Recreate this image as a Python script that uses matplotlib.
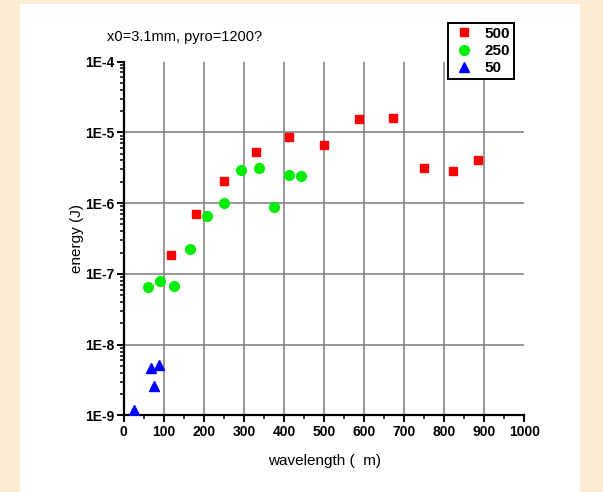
import math
import matplotlib
matplotlib.use("Agg")
import matplotlib.pyplot as plt
from matplotlib import rcParams, ticker
from matplotlib.patches import Rectangle

# Pulse energy vs wavelength for three settings
wl_500 = [118, 180, 251, 330, 413, 500, 587, 671, 750, 821, 884]
en_500 = [1.83e-7, 7.1e-7, 2.06e-6, 5.3e-6, 8.7e-6, 6.7e-6, 1.53e-5, 1.58e-5, 3.1e-6, 2.83e-6, 4.0e-6]

wl_250 = [60, 91, 126, 165, 207, 251, 294, 337, 375, 412, 442]
en_250 = [6.5e-8, 7.9e-8, 6.8e-8, 2.26e-7, 6.6e-7, 1.0e-6, 2.93e-6, 3.16e-6, 8.95e-7, 2.5e-6, 2.45e-6]

wl_50 = [26, 67, 76, 89]
en_50 = [1.2e-9, 4.7e-9, 2.6e-9, 5.2e-9]

x_ticks = [0, 100, 200, 300, 400, 500, 600, 700, 800, 900, 1000]
y_ticks = [1e-9, 1e-8, 1e-7, 1e-6, 1e-5, 1e-4]

rcParams["font.family"] = "Liberation Sans"
rcParams["font.size"] = 10

fig = plt.figure(figsize=(6.03, 4.92), dpi=100)
fig.patch.set_facecolor("#FAEDD4")
# white sheet behind the plot
fig.patches.append(Rectangle((20 / 603, 0), 560 / 603, 488 / 492,
                             transform=fig.transFigure, facecolor="white",
                             edgecolor="none", zorder=-10))

ax = fig.add_axes([0.2051, 0.1555, 0.6645, 0.7195])
ax.set_facecolor("none")
ax.set_zorder(1)
ax.set_yscale("log")
ax.set_xlim(0, 1000)
ax.set_ylim(1e-9, 1e-4)

# grid only on the inner ticks
ax.vlines(x_ticks[1:-1], 1e-9, 1e-4, colors="#858585", linewidth=1.2, zorder=1)
ax.hlines(y_ticks[1:-1], 0, 1000, colors="#858585", linewidth=1.2, zorder=1)

ax.plot(wl_500, en_500, "s", color="#FF0000", markersize=6, label="500", zorder=3)
ax.plot(wl_250, en_250, "o", color="#00EE00", markersize=7, label="250", zorder=3)
ax.plot(wl_50, en_50, "^", color="#0000FF", markersize=7.5, label="50", zorder=3)

for s in ["top", "right"]:
    ax.spines[s].set_visible(False)
for s in ["left", "bottom"]:
    ax.spines[s].set_linewidth(1.6)

ax.set_xticks(x_ticks)
ax.xaxis.set_minor_locator(ticker.MultipleLocator(50))
ax.set_yticks(y_ticks)
ax.yaxis.set_minor_locator(ticker.LogLocator(base=10, subs=range(2, 10), numticks=20))
ax.yaxis.set_minor_formatter(ticker.NullFormatter())
ax.yaxis.set_major_formatter(ticker.FuncFormatter(
    lambda v, p: "1E%d" % round(math.log10(v))))
ax.tick_params(which="major", direction="out", length=5, width=1.4,
               labelsize=10, pad=2)
ax.tick_params(which="minor", direction="out", length=3, width=1.1)
for lab in ax.get_xticklabels() + ax.get_yticklabels():
    lab.set_fontweight("bold")

ax.set_xlabel("wavelength (  m)", fontsize=11, labelpad=10.5)
ax.set_ylabel("energy (J)", fontsize=11, labelpad=0.5)

fig.text(107 / 603, 1 - 37 / 492, "x0=3.1mm, pyro=1200?", fontsize=10.5,
         ha="left", va="center")

leg = ax.legend(loc="upper left", bbox_to_anchor=(448 / 603, 1 - 23 / 492),
                bbox_transform=fig.transFigure, frameon=True, fancybox=False,
                borderaxespad=0, handletextpad=0.55, handlelength=1.6,
                borderpad=0.25, labelspacing=0.2,
                prop={"weight": "bold", "size": 11})
leg.get_frame().set_edgecolor("black")
leg.get_frame().set_linewidth(1.4)
leg.get_frame().set_alpha(1)

plt.savefig("out.png", dpi=100, facecolor=fig.get_facecolor())
